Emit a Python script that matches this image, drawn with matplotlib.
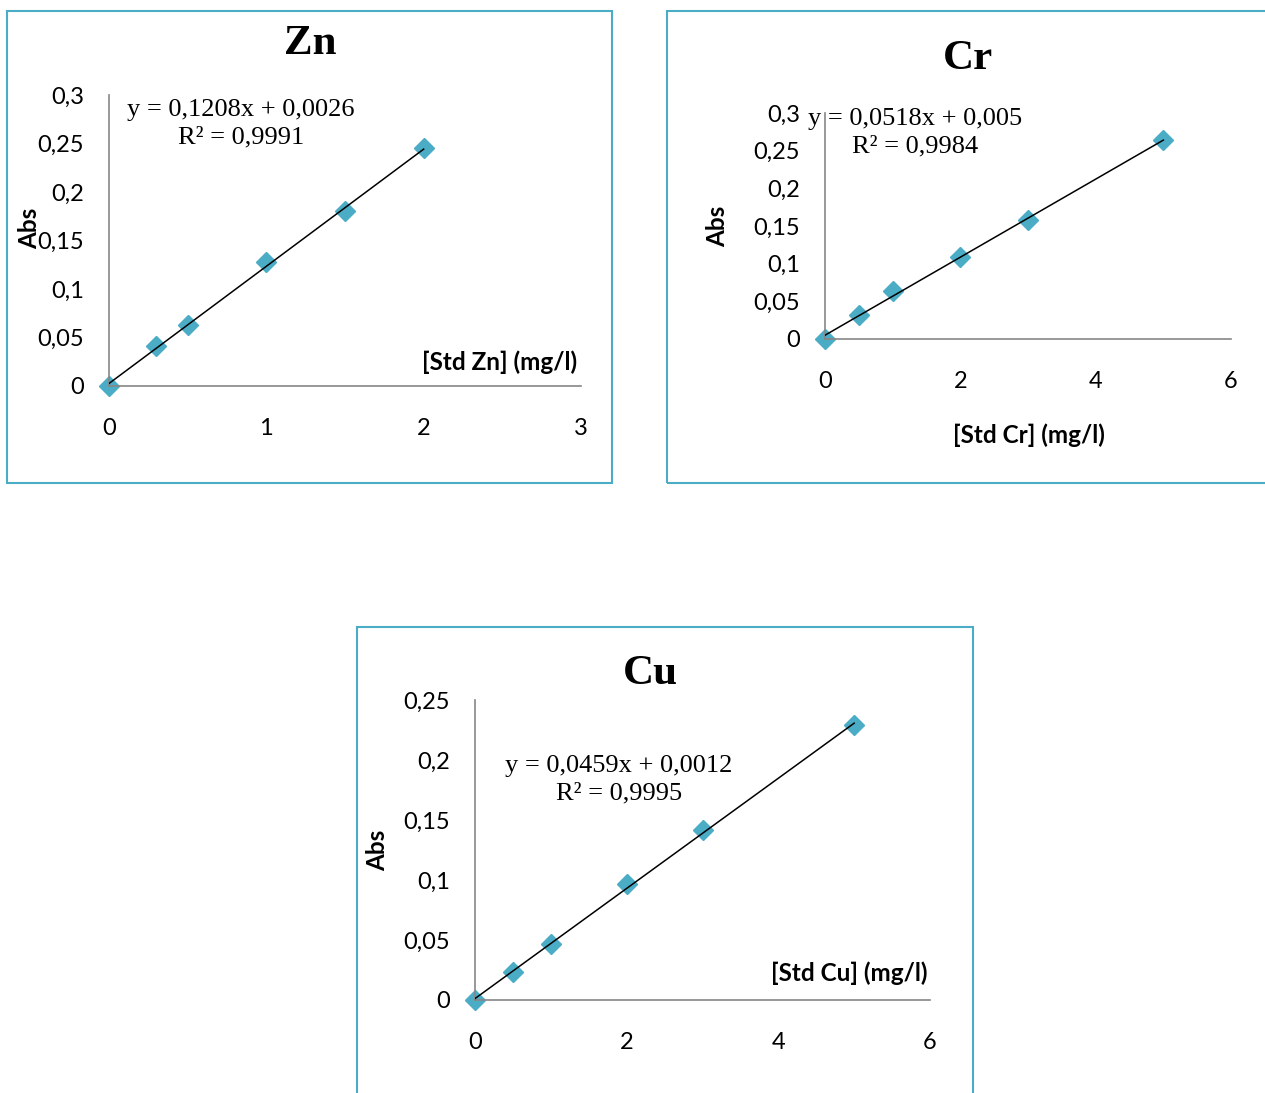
import numpy as np
import matplotlib.pyplot as plt
from matplotlib.patches import Rectangle
from matplotlib.ticker import FuncFormatter, MultipleLocator

# Calibration data
zn_conc = [0, 0.3, 0.5, 1, 1.5, 2]
zn_abs = [0, 0.041, 0.063, 0.128, 0.180, 0.245]
cr_conc = [0, 0.5, 1, 2, 3, 5]
cr_abs = [0, 0.032, 0.064, 0.109, 0.158, 0.264]
cu_conc = [0, 0.5, 1, 2, 3, 5]
cu_abs = [0, 0.023, 0.047, 0.097, 0.142, 0.229]

# Trend line coefficients (slope, intercept) and R²
zn_fit = (0.1208, 0.0026, 0.9991)
cr_fit = (0.0518, 0.005, 0.9984)
cu_fit = (0.0459, 0.0012, 0.9995)

W, H = 1265, 1093
fig = plt.figure(figsize=(W / 100, H / 100), dpi=100)

blue = '#4bacc6'
grey = '#868686'
sans = ['Lato', 'DejaVu Sans']
serif = ['Liberation Serif', 'DejaVu Serif']


def px(x, y):
    return x / W, 1 - y / H


def comma(v, pos):
    s = ('%.2f' % v).rstrip('0').rstrip('.')
    return s.replace('.', ',')


def fmt_eq(fit):
    def c(v):
        return ('%g' % v).replace('.', ',')
    return 'y = %sx + %s\nR² = %s' % (c(fit[0]), c(fit[1]), c(fit[2]))


def panel(box, axpos, conc, absb, fit, xlim, xstep, ylim, title, tpos, eqpos, xlabel, xlpos, ylpos):
    # frame around the chart
    x0, y0, x1, y1 = box
    fig.add_artist(Rectangle(px(x0, y1), (x1 - x0) / W, (y1 - y0) / H,
                             transform=fig.transFigure, fill=False,
                             edgecolor=blue, linewidth=1.5))
    l, t, r, b = axpos
    ax = fig.add_axes([l / W, 1 - b / H, (r - l) / W, (b - t) / H])
    ax.set_xlim(xlim)
    ax.set_ylim(ylim)
    ax.xaxis.set_major_locator(MultipleLocator(xstep))
    ax.yaxis.set_major_locator(MultipleLocator(0.05))
    ax.yaxis.set_major_formatter(FuncFormatter(comma))
    for s in ['top', 'right']:
        ax.spines[s].set_visible(False)
    for s in ['left', 'bottom']:
        ax.spines[s].set_color(grey)
        ax.spines[s].set_linewidth(1.2)
    ax.tick_params(axis='x', length=0, pad=23, labelsize=17)
    ax.tick_params(axis='y', length=0, pad=18, labelsize=17)
    for lab in ax.get_xticklabels() + ax.get_yticklabels():
        lab.set_family(sans)
    ax.patch.set_alpha(0)

    xs = np.array([0, max(conc)])
    ax.plot(xs, fit[0] * xs + fit[1], color='black', linewidth=1.1, zorder=3)
    ax.plot(conc, absb, linestyle='none', marker='D', markersize=10,
            color=blue, clip_on=False, zorder=2)

    fig.text(*px(*tpos), title, ha='center', va='center', family=serif,
             fontweight='bold', fontsize=31)
    fig.text(*px(*eqpos), fmt_eq(fit), ha='center', va='center',
             multialignment='center', family=serif, fontsize=19,
             linespacing=1.3)
    fig.text(*px(*xlpos), xlabel, ha='center', va='center', family=sans,
             fontweight='bold', fontsize=17.5)
    fig.text(*px(*ylpos), 'Abs', ha='center', va='center', family=sans,
             fontweight='bold', fontsize=17.5, rotation=90)
    return ax


panel((7, 11, 612, 483), (109, 95, 581, 386), zn_conc, zn_abs, zn_fit,
      (0, 3), 1, (0, 0.3), 'Zn', (310, 44), (241, 124),
      '[Std Zn] (mg/l)', (500, 362), (30, 228))
panel((667, 11, 1275, 483), (825, 113, 1231, 339), cr_conc, cr_abs, cr_fit,
      (0, 6), 2, (0, 0.3), 'Cr', (968, 59), (915, 133),
      '[Std Cr] (mg/l)', (1029, 435), (718, 226))
panel((357, 627, 973, 1103), (475, 700, 930, 1000), cu_conc, cu_abs, cu_fit,
      (0, 6), 2, (0, 0.25), 'Cu', (650, 674), (619, 780),
      '[Std Cu] (mg/l)', (849, 973), (378, 850))

fig.savefig('out.png', dpi=100)
